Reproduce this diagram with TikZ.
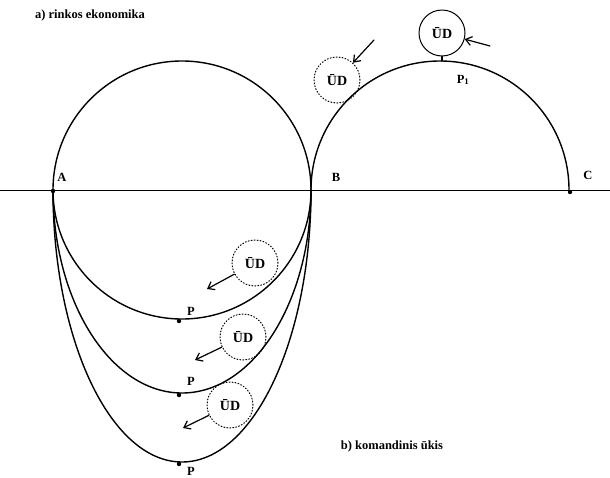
\documentclass[tikz,border=0pt]{standalone}
\usepackage{fontspec}
\setmainfont{Liberation Serif}
\usetikzlibrary{arrows.meta}
\begin{document}
\begin{tikzpicture}[x=1pt, y=-1pt, font=\bfseries\fontsize{12.5}{14}\selectfont, line join=round, line cap=round, >={Straight Barb[length=6pt,width=9pt]},
	ud/.style={circle, draw, dotted, line width=1pt, minimum size=46pt, inner sep=0pt, font=\bfseries\fontsize{14}{16}\selectfont},
	curve/.style={line width=1.4pt}]
	\useasboundingbox (0,0) rectangle (610,477);
	\draw[line width=0.9pt] (0,190) -- (610,190);
	\draw[curve] (182,190) circle (129);
	\draw[curve] (311,190) arc[start angle=180, end angle=360, radius=129];
	\draw[curve] (53,190) arc[start angle=180, end angle=0, x radius=129, y radius=203];
	\draw[curve] (53,190) arc[start angle=180, end angle=0, x radius=129, y radius=272];
	\fill (53,191) circle (2.2);
	\fill (570,192) circle (2.2);
	\fill (179,321) circle (2.2);
	\fill (179,395) circle (2.2);
	\fill (179,464) circle (2.2);
	\node (tA) at (62,177) {A};
	\node (tB) at (336,177) {B};
	\node (tC) at (588,175) {C};
	\node (tP1) at (463,80) {P\textsubscript{1}};
	\node (tP2) at (191,311) {P};
	\node (tP3) at (191,381) {P};
	\node (tP4) at (191,471) {P};
	\node[font=\bfseries\fontsize{12.5}{14}\selectfont] (ta) at (90,15) {a) rinkos ekonomika};
	\node[font=\bfseries\fontsize{12.5}{14}\selectfont] (tb) at (392,446) {b) komandinis ūkis};
	% market
	\node[ud, solid] (ud0) at (442,33) {ŪD};
	\coordinate (a0) at (490,46);
	\draw[->, line width=1.2pt] (a0) -- (ud0);
	\draw[curve] (ud0.south) -- (442,61);
	\node[ud] (ud1) at (337,80) {ŪD};
	\coordinate (a1) at (374,40);
	\draw[->, line width=1.2pt] (a1) -- (ud1);
	% command
	\node[ud] (ud2) at (255,263) {ŪD};
	\coordinate (a2) at (207,289);
	\draw[->, line width=1.2pt] (ud2) -- (a2);
	\node[ud] (ud3) at (243,337) {ŪD};
	\coordinate (a3) at (195,360);
	\draw[->, line width=1.2pt] (ud3) -- (a3);
	\node[ud] (ud4) at (230,405) {ŪD};
	\coordinate (a4) at (183,428);
	\draw[->, line width=1.2pt] (ud4) -- (a4);
\end{tikzpicture}
\end{document}
